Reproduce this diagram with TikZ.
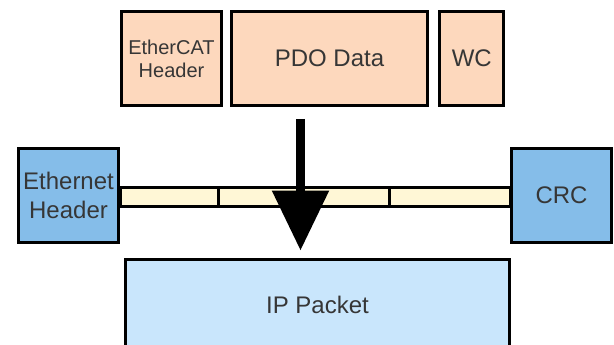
\documentclass[tikz,border=0pt]{standalone}
\usepackage{fontspec}
\setmainfont{Liberation Sans}
\usetikzlibrary{arrows.meta}
\definecolor{peach}{HTML}{FDD8BD}
\definecolor{ethblue}{HTML}{85BDE9}
\definecolor{ipblue}{HTML}{C9E6FC}
\definecolor{cream}{HTML}{FFF7D6}
\definecolor{txt}{HTML}{363636}
\begin{document}
\begin{tikzpicture}[x=1pt,y=-1pt,
  box/.style={draw=black, line width=3pt, rectangle, inner sep=0pt, outer sep=0pt,
    align=center, text=txt, font=\fontsize{24}{29}\selectfont},
  topbox/.style={box, fill=peach, minimum height=94pt},
  ethbox/.style={box, fill=ethblue, minimum width=100pt, minimum height=93pt},
  seg/.style={box, fill=cream, minimum height=19pt},
  bigarrow/.style={line width=9pt, -{Triangle[length=60pt,width=55pt]}}]
\useasboundingbox (0,0) rectangle (614,345);
\clip (0,0) rectangle (614,345);
% strip
\node[seg, minimum width=98pt] (s1) at (169,196.5) {};
\node[seg, minimum width=171pt] (s2) at (303.5,196.5) {};
\node[seg, minimum width=121pt] (s3) at (449.5,196.5) {};
% top boxes
\node[topbox, minimum width=100pt, font=\fontsize{20}{23}\selectfont] (ech) at (171.5,58.5) {EtherCAT\\Header};
\node[topbox, minimum width=196pt] (pdo) at (329.5,58.5) {PDO Data};
\node[topbox, minimum width=64pt] (wc) at (471.8,58.5) {WC};
% ethernet boxes
\node[ethbox] (eth) at (68.5,195.5) {Ethernet\\Header};
\node[ethbox] (crc) at (561.5,195.5) {CRC};
% IP packet
\node[box, fill=ipblue, minimum width=384pt, minimum height=91pt] (ip) at (317.5,305) {IP Packet};
% arrow
\coordinate (atop) at (300.5,119);
\coordinate (atip) at (300.5,250.5);
\draw[bigarrow] (atop) -- (atip);
\end{tikzpicture}
\end{document}
